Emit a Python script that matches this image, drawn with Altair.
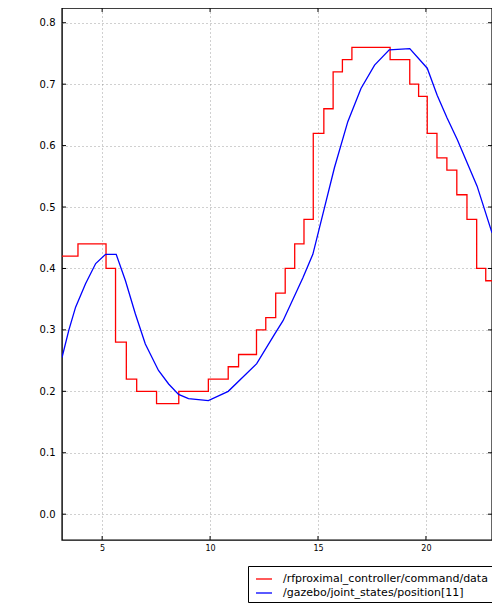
import altair as alt
import pandas as pd

# ---- data ----
red_name = "/rfproximal_controller/command/data"
blue_name = "/gazebo/joint_states/position[11]"

red_t = [3.14, 3.88, 5.18, 5.62, 6.12, 6.60, 7.52, 8.55, 9.92, 10.84,
         11.32, 12.15, 12.58, 13.04, 13.48, 13.92, 14.35, 14.78, 15.27, 15.70,
         16.13, 16.57, 18.34, 19.25, 19.66, 20.06, 20.51, 20.97, 21.43, 21.90,
         22.35, 22.77, 23.06]
red_v = [0.42, 0.44, 0.40, 0.28, 0.22, 0.20, 0.18, 0.20, 0.22, 0.24,
         0.26, 0.30, 0.32, 0.36, 0.40, 0.44, 0.48, 0.62, 0.66, 0.72,
         0.74, 0.76, 0.74, 0.70, 0.68, 0.62, 0.58, 0.56, 0.52, 0.48,
         0.40, 0.38, 0.38]

blue_t = [3.14, 3.46, 3.77, 4.23, 4.70, 5.16, 5.65, 6.08, 6.54, 7.00,
          7.61, 8.08, 8.54, 9.00, 9.92, 10.84, 12.16, 12.99, 13.38, 14.30,
          14.76, 15.30, 15.76, 16.38, 16.99, 17.62, 18.30, 19.25, 20.06, 20.52,
          20.98, 21.45, 22.37, 23.06]
blue_v = [0.255, 0.300, 0.337, 0.375, 0.408, 0.423, 0.423, 0.380, 0.326, 0.277,
          0.234, 0.212, 0.195, 0.188, 0.185, 0.200, 0.245, 0.293, 0.315, 0.385,
          0.423, 0.499, 0.564, 0.639, 0.693, 0.731, 0.756, 0.758, 0.726, 0.682,
          0.645, 0.610, 0.534, 0.458]

x_ticks = [5, 10, 15, 20]
y_ticks = [0.0, 0.1, 0.2, 0.3, 0.4, 0.5, 0.6, 0.7, 0.8]
x_domain = [3.14, 23.06]
y_domain = [-0.042, 0.824]

W, H = 430, 532

red_df = pd.DataFrame({"x": red_t, "y": red_v, "series": red_name})
blue_df = pd.DataFrame({"x": blue_t, "y": blue_v, "series": blue_name})
xt_df = pd.DataFrame({"x": x_ticks})
yt_df = pd.DataFrame({"y": y_ticks})

xscale = alt.Scale(domain=x_domain, nice=False, zero=False)
yscale = alt.Scale(domain=y_domain, nice=False, zero=False)
cscale = alt.Scale(domain=[red_name, blue_name], range=["#ff0000", "#0000ff"])

xaxis = alt.Axis(values=x_ticks, format="d", title=None, grid=True, ticks=False,
                 domain=False, labelFontSize=8, labelPadding=4,
                 gridColor="#888888", gridDash=[1, 3], gridWidth=0.8)
yaxis = alt.Axis(values=y_ticks, format=".1f", title=None, grid=True, ticks=False,
                 domain=False, labelFontSize=10, labelPadding=7,
                 gridColor="#888888", gridDash=[1, 3], gridWidth=0.8)

legend = alt.Legend(title=None, orient="none", legendX=186, legendY=558,
                    symbolType="stroke", symbolStrokeWidth=1.3, symbolSize=256,
                    labelFontSize=11, labelFont="DejaVu Sans", labelColor="black",
                    strokeColor="black", fillColor="white", padding=4,
                    rowPadding=0, labelLimit=400, symbolOffset=3, labelOffset=10)

red = alt.Chart(red_df).mark_line(interpolate="step-after", strokeWidth=1.3, clip=True).encode(
    x=alt.X("x:Q", scale=xscale, axis=xaxis),
    y=alt.Y("y:Q", scale=yscale, axis=yaxis),
    color=alt.Color("series:N", scale=cscale, legend=legend),
)
blue = alt.Chart(blue_df).mark_line(strokeWidth=1.3, clip=True).encode(
    x=alt.X("x:Q", scale=xscale),
    y=alt.Y("y:Q", scale=yscale),
    color=alt.Color("series:N", scale=cscale, legend=legend),
)

tick_left = alt.Chart(yt_df).mark_rule(color="black", strokeWidth=1).encode(
    y=alt.Y("y:Q", scale=yscale), x=alt.value(0), x2=alt.value(4))
tick_right = alt.Chart(yt_df).mark_rule(color="black", strokeWidth=1).encode(
    y=alt.Y("y:Q", scale=yscale), x=alt.value(W - 4), x2=alt.value(W))
tick_bottom = alt.Chart(xt_df).mark_rule(color="black", strokeWidth=1).encode(
    x=alt.X("x:Q", scale=xscale), y=alt.value(H - 4), y2=alt.value(H))
tick_top = alt.Chart(xt_df).mark_rule(color="black", strokeWidth=1).encode(
    x=alt.X("x:Q", scale=xscale), y=alt.value(0), y2=alt.value(4))

chart = alt.layer(tick_left, tick_right, tick_bottom, tick_top, red, blue).properties(
    width=W, height=H,
    autosize=alt.AutoSizeParams(type="none"),
    padding={"left": 54, "top": 0, "right": 0, "bottom": 66},
).configure_view(
    stroke="black", strokeWidth=1.4
).configure_axis(
    labelFont="DejaVu Sans", labelColor="black"
)

chart.save("out.html", embed_options={"renderer": "svg", "actions": False})
